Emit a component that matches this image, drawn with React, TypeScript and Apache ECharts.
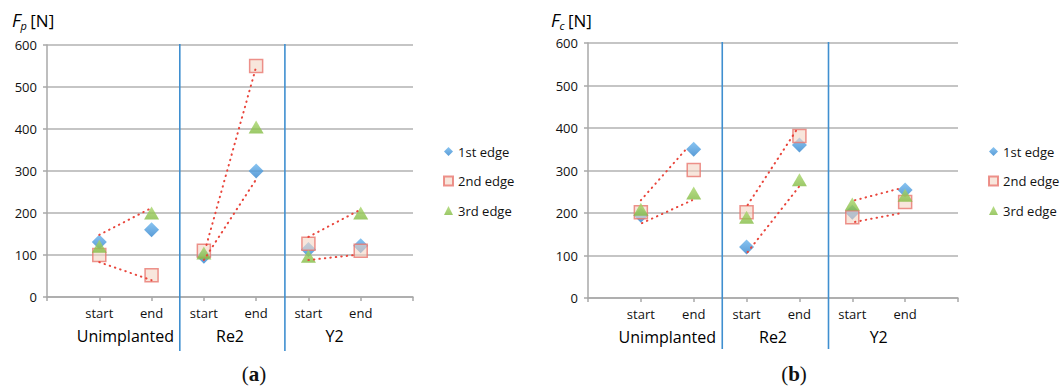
import React, { useEffect, useRef } from "react";
import * as echarts from "echarts";

const categoryLabels = ["start", "end", "start", "end", "start", "end"];
const categoryX = [1, 2, 3, 4, 5, 6];
const groupLabels = ["Unimplanted", "Re2", "Y2"];
const groupX = [1.5, 3.5, 5.5];
const separatorX = [2.54, 4.55];
const seriesNames = ["1st edge", "2nd edge", "3rd edge"];

// Fp [N]
const fp1 = [131, 160, 97, 300, 113, 122];
const fp2 = [100, 52, 110, 550, 127, 110];
const fp3 = [121, 200, 105, 405, 97, 200];
// Fc [N]
const fc1 = [195, 350, 120, 360, 202, 254];
const fc2 = [202, 301, 202, 381, 190, 226];
const fc3 = [209, 247, 190, 278, 221, 242];

// dotted connectors [xStart, yStart, xEnd, yEnd]
const fpLinks = [
  [1, 148, 2, 212],
  [1, 83, 2, 40],
  [3.05, 124, 4, 548],
  [3, 88, 4, 280],
  [5, 143, 5.98, 207],
  [5, 88, 5.89, 100],
];
const fcLinks = [
  [1, 230, 1.89, 355],
  [1.02, 176, 1.97, 230],
  [3.02, 219, 3.97, 400],
  [3.02, 108, 4, 263],
  [5.05, 230, 5.94, 259],
  [5.05, 179, 5.94, 200],
];

const FONT = "Open Sans";
const TXT = "#111";

const markerStyles = [
  {
    symbol: "diamond",
    symbolSize: [15, 15],
    itemStyle: {
      color: new echarts.graphic.LinearGradient(0, 0, 0, 1, [
        { offset: 0, color: "#6cb6ee" },
        { offset: 1, color: "#2f82cc" },
      ]),
    },
  },
  {
    symbol: "rect",
    symbolSize: [13, 13],
    itemStyle: {
      color: "rgba(242,212,194,0.72)",
      borderColor: "#e8776f",
      borderWidth: 1.5,
    },
  },
  {
    symbol: "triangle",
    symbolSize: [15, 13],
    itemStyle: {
      color: new echarts.graphic.LinearGradient(0, 0, 0, 1, [
        { offset: 0, color: "#a9d66c" },
        { offset: 1, color: "#82bb42" },
      ]),
    },
  },
];

function buildSeries(values: number[][], links: number[][], xIdx: number, yIdx: number) {
  const out: any[] = [];
  values.forEach((vals, i) => {
    out.push({
      type: "scatter",
      name: seriesNames[i],
      xAxisIndex: xIdx,
      yAxisIndex: yIdx,
      symbol: markerStyles[i].symbol,
      symbolSize: markerStyles[i].symbolSize,
      itemStyle: markerStyles[i].itemStyle,
      z: 3 + i,
      data: vals.map((v, k) => [categoryX[k], v]),
    });
  });
  links.forEach((l) => {
    out.push({
      type: "line",
      xAxisIndex: xIdx,
      yAxisIndex: yIdx,
      symbol: "none",
      silent: true,
      z: 8,
      lineStyle: { color: "#e9453b", width: 2, type: [0.5, 5], cap: "round" },
      data: [
        [l[0], l[1]],
        [l[2], l[3]],
      ],
    });
  });
  out.push({
    type: "custom",
    xAxisIndex: xIdx,
    yAxisIndex: yIdx,
    silent: true,
    z: 2,
    data: separatorX.map((x) => [x, 600]),
    renderItem: (params: any, api: any) => {
      const p = api.coord([api.value(0), api.value(1)]);
      return {
        type: "line",
        shape: { x1: p[0], y1: p[1] - 1, x2: p[0], y2: p[1] + 306 },
        style: { stroke: "#3f8fd0", lineWidth: 1.6 },
      };
    },
  });
  return out;
}

function xAxes(gridIndex: number) {
  return [
    {
      type: "value",
      gridIndex,
      min: 0,
      max: 7,
      interval: 1,
      position: "bottom",
      axisLine: { show: true, lineStyle: { color: "#a8a8a8", width: 1.5 } },
      axisTick: { show: true, length: 4, lineStyle: { color: "#a8a8a8", width: 1.5 } },
      splitLine: { show: false },
      axisLabel: {
        margin: 9,
        fontFamily: FONT,
        fontSize: 13,
        fontWeight: 500,
        color: TXT,
        formatter: (v: number) => {
          const k = categoryX.indexOf(v);
          return k >= 0 ? categoryLabels[k] : "";
        },
      },
    },
    {
      type: "value",
      gridIndex,
      min: 0,
      max: 7,
      interval: 0.5,
      position: "bottom",
      axisLine: { show: false },
      axisTick: { show: false },
      splitLine: { show: false },
      axisLabel: {
        margin: 31,
        fontFamily: FONT,
        fontSize: 16,
        fontWeight: 500,
        color: "#000",
        formatter: (v: number) => {
          const k = groupX.indexOf(v);
          return k >= 0 ? groupLabels[k] : "";
        },
      },
    },
  ];
}

function yAxis(gridIndex: number) {
  return {
    type: "value",
    gridIndex,
    min: 0,
    max: 600,
    interval: 100,
    axisLine: { show: true, lineStyle: { color: "#a8a8a8", width: 1.5 } },
    axisTick: { show: true, length: 4, lineStyle: { color: "#a8a8a8", width: 1.5 } },
    splitLine: { show: true, lineStyle: { color: "#b2b2b2", width: 1.5 } },
    axisLabel: { margin: 10, fontFamily: FONT, fontSize: 13, fontWeight: 500, color: TXT },
  };
}

function legend(left: number) {
  return {
    orient: "vertical",
    left,
    top: 140,
    itemWidth: 9,
    itemHeight: 9,
    itemGap: 16.5,
    data: seriesNames,
    textStyle: { fontFamily: FONT, fontSize: 13, fontWeight: 500, color: TXT },
  };
}

function titleText(x: number, sub: string) {
  return {
    type: "text",
    left: x,
    top: 11,
    style: {
      text: `{f|F}{s|${sub}} {n|[N]}`,
      rich: {
        f: { fontFamily: FONT, fontSize: 18, fontStyle: "italic", fill: "#000" },
        s: { fontFamily: FONT, fontSize: 11, fontStyle: "italic", fill: "#000", padding: [10, 0, 0, 0] },
        n: { fontFamily: FONT, fontSize: 17, fill: "#000" },
      },
    },
  };
}

function panelLabel(cx: number, letter: string) {
  return {
    type: "text",
    x: cx,
    y: 374,
    style: {
      text: `{p|(}{b|${letter}}{p|)}`,
      align: "center",
      verticalAlign: "middle",
      rich: {
        p: { fontFamily: "Liberation Serif", fontSize: 21, fill: "#111" },
        b: { fontFamily: "Liberation Serif", fontSize: 21, fontWeight: "bold", fill: "#111" },
      },
    },
  };
}

export default function App() {
  const ref = useRef<HTMLDivElement>(null);
  useEffect(() => {
    if (!ref.current) return;
    const chart = echarts.init(ref.current, null, { renderer: "svg" });
    const option: any = {
      animation: false,
      backgroundColor: "#ffffff",
      grid: [
        { left: 47, top: 45, width: 366, height: 252 },
        { left: 588, top: 43, width: 370, height: 255 },
      ],
      xAxis: [...xAxes(0), ...xAxes(1)],
      yAxis: [yAxis(0), yAxis(1)],
      legend: [legend(438), legend(983)],
      series: [
        ...buildSeries([fp1, fp2, fp3], fpLinks, 0, 0),
        ...buildSeries([fc1, fc2, fc3], fcLinks, 2, 1),
      ],
      graphic: [titleText(12, "p"), titleText(551, "c"), panelLabel(254, "a"), panelLabel(794, "b")],
    };
    chart.setOption(option);
    return () => chart.dispose();
  }, []);
  return (
    <div
      ref={ref}
      style={{ position: "absolute", left: 0, top: 0, width: 1061, height: 387 }}
    />
  );
}
